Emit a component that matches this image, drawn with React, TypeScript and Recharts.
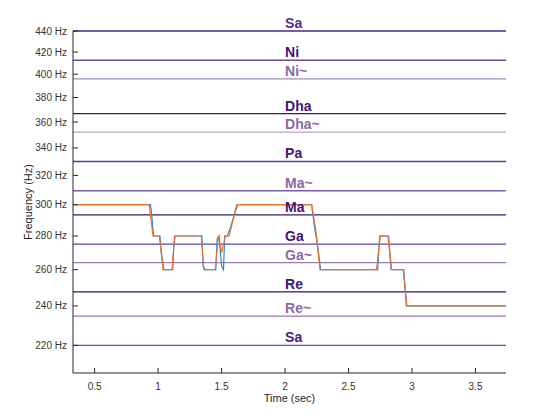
import {
  ComposedChart,
  Line,
  Scatter,
  XAxis,
  YAxis,
  ReferenceLine,
} from "recharts";

// swara reference pitches (just intonation on Sa = 220 Hz)
const swaraNames = ["Sa", "Re~", "Re", "Ga~", "Ga", "Ma", "Ma~", "Pa", "Dha~", "Dha", "Ni~", "Ni", "Sa"];
const swaraHz = [220, 234.67, 247.5, 264, 275, 293.33, 309.38, 330, 352, 366.67, 396, 412.5, 440];
const swaraLineColors = [
  "#5b4fb0", "#9a77b3", "#2f1466", "#9c7cb4", "#5a44a6", "#321a6e", "#7d5da6",
  "#5b3a98", "#b9a2c4", "#3a1a5e", "#a688bb", "#6a4aa0", "#4a2a88",
];
const swaraLabelColors = [
  "#45208a", "#8d67a6", "#3f1577", "#8d67a6", "#3f1577", "#3f1577", "#8d67a6",
  "#3f1577", "#8d67a6", "#3f1577", "#8d67a6", "#3f1577", "#4e2d92",
];
const labelTime = 2;

// pitch contour (orange) and its quantised trace (blue)
const contourTimes = [
  0.33, 0.93, 0.96, 1.01, 1.04, 1.11, 1.13, 1.34, 1.36, 1.45, 1.475, 1.5, 1.53,
  1.56, 1.62, 2.21, 2.245, 2.275, 2.72, 2.75, 2.81, 2.84, 2.93, 2.96, 3.74,
];
const contourHz = [
  300, 300, 280, 280, 260, 260, 280, 280, 260, 260, 280, 270, 280,
  280, 300, 300, 282, 260, 260, 280, 280, 260, 260, 240, 240,
];
const traceTimes = [
  0.33, 0.94, 0.945, 0.965, 1.015, 1.025, 1.045, 1.115, 1.125, 1.135,
  1.345, 1.355, 1.37, 1.455, 1.465, 1.48, 1.5, 1.515, 1.525, 1.545,
  1.565, 1.625, 2.21, 2.215, 2.24, 2.25, 2.28, 2.73, 2.745, 2.815,
  2.835, 2.935, 2.955, 3.74,
];
const traceHz = [
  300, 300, 297, 280, 280, 270, 260, 260, 275, 280,
  280, 262, 260, 260, 278, 280, 262, 260, 280, 280,
  284, 300, 300, 296, 281, 278, 260, 260, 280, 280,
  260, 260, 240, 240,
];

const timeTicks = [0.5, 1, 1.5, 2, 2.5, 3, 3.5];
const hzTicks = [220, 240, 260, 280, 300, 320, 340, 360, 380, 400, 420, 440];
const hzMinorTicks = [
  210, 215, 220, 225, 230, 235, 240, 245, 250, 255, 260, 265, 270, 275, 280, 285,
  290, 295, 300, 305, 310, 315, 320, 325, 330, 335, 340, 345, 350, 355, 360, 365,
  370, 375, 380, 385, 390, 395, 400, 405, 410, 415, 420, 425, 430, 435, 440,
];

const contour = contourTimes.map((t, i) => ({ t, hz: contourHz[i] }));
const trace = traceTimes.map((t, i) => ({ t, hz: traceHz[i] }));
const labels = swaraNames.map((name, i) => ({
  t: labelTime,
  hz: swaraHz[i],
  name,
  color: swaraLabelColors[i],
}));

const FONT = "'Liberation Sans', Arial, Helvetica, sans-serif";
const AXIS = "#262626";
const TICK_TEXT = "#333";
const yDomain: [number, number] = [207, 440];
const xDomain: [number, number] = [0.33, 3.74];

// ticks point inward, MATLAB style
const BottomTick = ({ x, y, payload }: any) => (
  <g>
    <line x1={x} y1={y} x2={x} y2={y - 5} stroke={AXIS} strokeWidth={1} />
    <text x={x} y={y + 17} textAnchor="middle" fontSize={10} fill={TICK_TEXT} fontFamily={FONT}>
      {payload.value}
    </text>
  </g>
);
const TopTick = ({ x, y }: any) => (
  <line x1={x} y1={y} x2={x} y2={y + 5} stroke={AXIS} strokeWidth={1} />
);
const LeftTick = ({ x, y, payload }: any) => (
  <g>
    <line x1={x} y1={y} x2={x + 5} y2={y} stroke={AXIS} strokeWidth={1} />
    <text x={x - 6} y={y + 3.5} textAnchor="end" fontSize={10} fill={TICK_TEXT} fontFamily={FONT}>
      {`${payload.value} Hz`}
    </text>
  </g>
);
const LeftMinorTick = ({ x, y }: any) => (
  <line x1={x} y1={y} x2={x + 2.5} y2={y} stroke={AXIS} strokeWidth={1} />
);
const RightTick = ({ x, y }: any) => (
  <line x1={x} y1={y} x2={x - 5} y2={y} stroke={AXIS} strokeWidth={1} />
);
const RightMinorTick = ({ x, y }: any) => (
  <line x1={x} y1={y} x2={x - 2.5} y2={y} stroke={AXIS} strokeWidth={1} />
);

const SwaraLabel = (props: any) => {
  const { cx, cy, payload } = props;
  return (
    <text
      x={cx}
      y={cy - 3}
      fill={payload.color}
      fontSize={14}
      fontWeight="bold"
      fontFamily={FONT}
    >
      {payload.name}
    </text>
  );
};

const logAxis = {
  type: "number" as const,
  scale: "log" as const,
  domain: yDomain,
  interval: 0 as const,
  tickSize: 0,
  tickMargin: 0,
  tickLine: false,
  stroke: AXIS,
};

export default function App() {
  return (
    <div style={{ width: 540, height: 400 }}>
      <ComposedChart
        width={540}
        height={400}
        margin={{ top: 23, right: 42, bottom: 5, left: 5 }}
      >
        <XAxis
          dataKey="t"
          type="number"
          domain={xDomain}
          ticks={timeTicks}
          interval={0}
          tickSize={0}
          tickMargin={0}
          tickLine={false}
          height={30}
          tick={<BottomTick />}
          stroke={AXIS}
          label={{
            value: "Time (sec)",
            position: "insideBottom",
            offset: 1,
            style: { fontSize: 11, fill: "#262626", fontFamily: FONT },
          }}
        />
        <XAxis
          xAxisId="top"
          orientation="top"
          type="number"
          domain={xDomain}
          allowDataOverflow
          ticks={timeTicks}
          interval={0}
          tickSize={0}
          tickMargin={0}
          tickLine={false}
          tick={<TopTick />}
          height={0}
          stroke={AXIS}
        />
        <YAxis
          {...logAxis}
          ticks={hzTicks}
          width={60}
          tick={<LeftTick />}
          label={{
            value: "Frequency (Hz)",
            angle: -90,
            position: "insideLeft",
            offset: 15,
            style: { fontSize: 11, fill: "#262626", fontFamily: FONT, textAnchor: "middle" },
          }}
        />
        <YAxis
          {...logAxis}
          yAxisId="minorL"
          allowDataOverflow
          ticks={hzMinorTicks}
          tick={<LeftMinorTick />}
          axisLine={false}
          width={0}
        />
        <YAxis
          {...logAxis}
          yAxisId="majorR"
          orientation="right"
          allowDataOverflow
          ticks={hzTicks}
          tick={<RightTick />}
          width={0}
        />
        <YAxis
          {...logAxis}
          yAxisId="minorR"
          orientation="right"
          allowDataOverflow
          ticks={hzMinorTicks}
          tick={<RightMinorTick />}
          axisLine={false}
          width={0}
        />
        {swaraHz.map((hz, i) => (
          <ReferenceLine
            key={i}
            y={hz}
            stroke={swaraLineColors[i]}
            strokeWidth={1.3}
          />
        ))}
        <Line
          data={trace}
          dataKey="hz"
          type="linear"
          stroke="#2a8ad0"
          strokeWidth={1.2}
          dot={false}
          isAnimationActive={false}
        />
        <Line
          data={contour}
          dataKey="hz"
          type="linear"
          stroke="#e8722e"
          strokeWidth={1.2}
          dot={false}
          isAnimationActive={false}
        />
        <Scatter
          data={labels}
          dataKey="hz"
          shape={SwaraLabel}
          isAnimationActive={false}
        />
      </ComposedChart>
    </div>
  );
}
